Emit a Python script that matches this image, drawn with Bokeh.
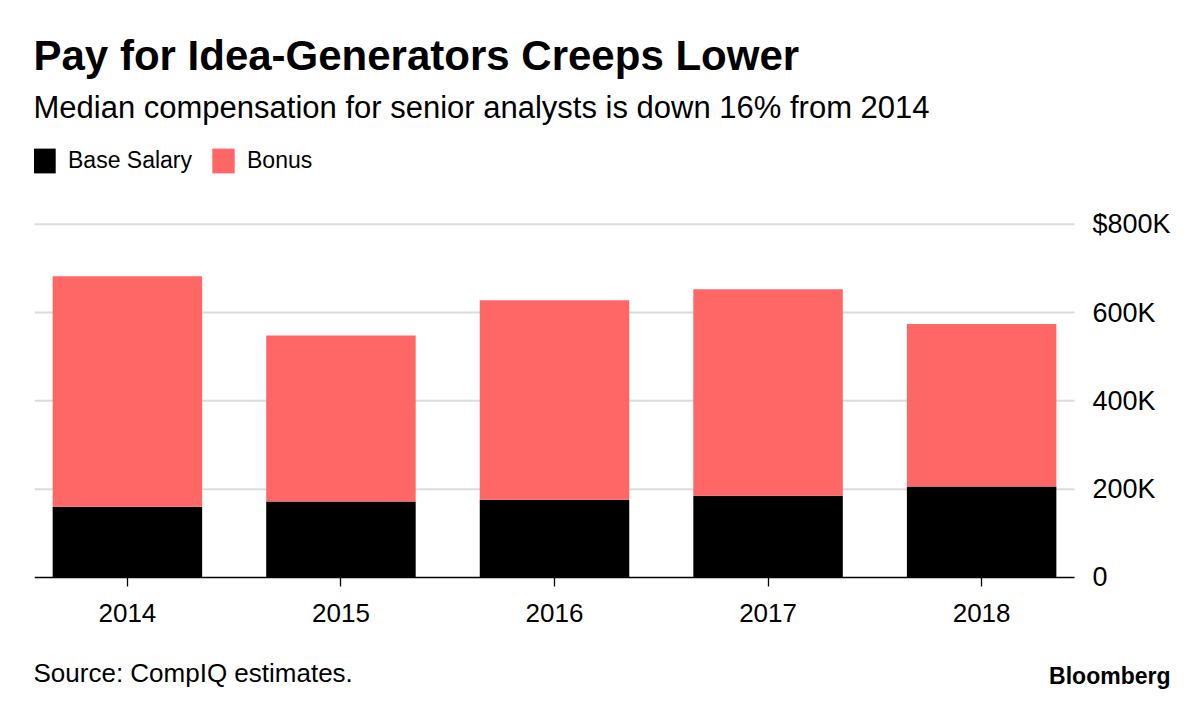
from bokeh.plotting import figure
from bokeh.models import Range1d, FixedTicker, LinearAxis, Label, Legend, LegendItem, ColumnDataSource
from bokeh.embed import file_html
from bokeh.resources import INLINE

years = ["2014", "2015", "2016", "2017", "2018"]
base_salary = [160, 172, 176, 185, 206]   # thousand $
bonus = [522, 376, 452, 468, 368]         # thousand $
y_ticks = [0, 200, 400, 600, 800]
y_tick_labels = ["0", "200K", "400K", "600K", "$800K"]

FONT = "Liberation Sans"
BONUS_COLOR = "#FF6666"
X_START, X_AXIS_END, X_END = -0.435, 4.435, 4.95

x = list(range(len(years)))
src = ColumnDataSource(dict(x=x, base=base_salary, bonus=bonus))

p = figure(width=1184, height=693, output_backend="svg", toolbar_location=None,
           x_range=Range1d(X_START, X_END), y_range=Range1d(-262.7, 1288.5),
           y_axis_location=None,
           min_border_left=34, min_border_right=0, min_border_top=8, min_border_bottom=0)
p.outline_line_color = None
p.background_fill_color = "white"
p.border_fill_color = "white"
p.xgrid.grid_line_color = None
p.ygrid.grid_line_color = None

# horizontal grid lines at the y ticks (limited to the plotting area)
grid_y = y_ticks[1:]
p.segment(x0=[X_START] * len(grid_y), x1=[X_AXIS_END] * len(grid_y), y0=grid_y, y1=grid_y,
          line_color="#dcdcdc", line_width=2)

r = p.vbar_stack(["base", "bonus"], x="x", width=0.7, source=src,
                 color=["#000000", BONUS_COLOR], line_color=None)

# x axis, drawn at y = 0
xa = p.xaxis[0]
xa.fixed_location = 0
xa.bounds = (X_START, X_AXIS_END)
xa.ticker = FixedTicker(ticks=x)
xa.major_label_overrides = {i: y for i, y in enumerate(years)}
xa.axis_line_color = "black"
xa.axis_line_width = 1.3
xa.major_tick_line_color = "black"
xa.major_tick_line_width = 1.3
xa.major_tick_in = 0
xa.major_tick_out = 9
xa.minor_tick_line_color = None
xa.major_label_text_font = FONT
xa.major_label_text_font_size = "26px"
xa.major_label_text_color = "black"
xa.major_label_standoff = 18

# y axis labels on the right of the plotting area
ya = LinearAxis(ticker=FixedTicker(ticks=y_ticks), fixed_location=X_AXIS_END)
ya.major_label_overrides = {t: l for t, l in zip(y_ticks, y_tick_labels)}
ya.axis_line_color = None
ya.major_tick_line_color = None
ya.minor_tick_line_color = None
ya.major_tick_out = 0
ya.major_tick_in = 0
ya.major_label_text_font = FONT
ya.major_label_text_font_size = "27px"
ya.major_label_text_color = "black"
ya.major_label_standoff = 18
p.add_layout(ya, "right")

legend = Legend(items=[LegendItem(label="Base Salary", renderers=[r[0]]),
                       LegendItem(label="Bonus", renderers=[r[1]])],
                orientation="horizontal", location=(-4, 517),
                padding=0, margin=0, spacing=17, label_standoff=10,
                glyph_width=28, glyph_height=31,
                label_text_font=FONT, label_text_font_size="23px",
                label_text_color="black",
                border_line_color=None, background_fill_alpha=0)
p.add_layout(legend, "center")

p.add_layout(Label(x=-1, y=638, x_units="screen", y_units="screen",
                   text="Pay for Idea-Generators Creeps Lower",
                   text_font=FONT, text_font_style="bold", text_font_size="42px",
                   text_color="black", text_baseline="alphabetic"))
p.add_layout(Label(x=-1, y=586, x_units="screen", y_units="screen",
                   text="Median compensation for senior analysts is down 16% from 2014",
                   text_font=FONT, text_font_size="31px",
                   text_color="black", text_baseline="alphabetic"))
p.add_layout(Label(x=-1, y=21, x_units="screen", y_units="screen",
                   text="Source: CompIQ estimates.",
                   text_font=FONT, text_font_size="26px",
                   text_color="black", text_baseline="alphabetic"))
p.add_layout(Label(x=1136, y=18, x_units="screen", y_units="screen",
                   text="Bloomberg", text_align="right",
                   text_font=FONT, text_font_style="bold", text_font_size="23px",
                   text_color="black", text_baseline="alphabetic"))

open("out.html", "w").write(file_html(p, INLINE))
